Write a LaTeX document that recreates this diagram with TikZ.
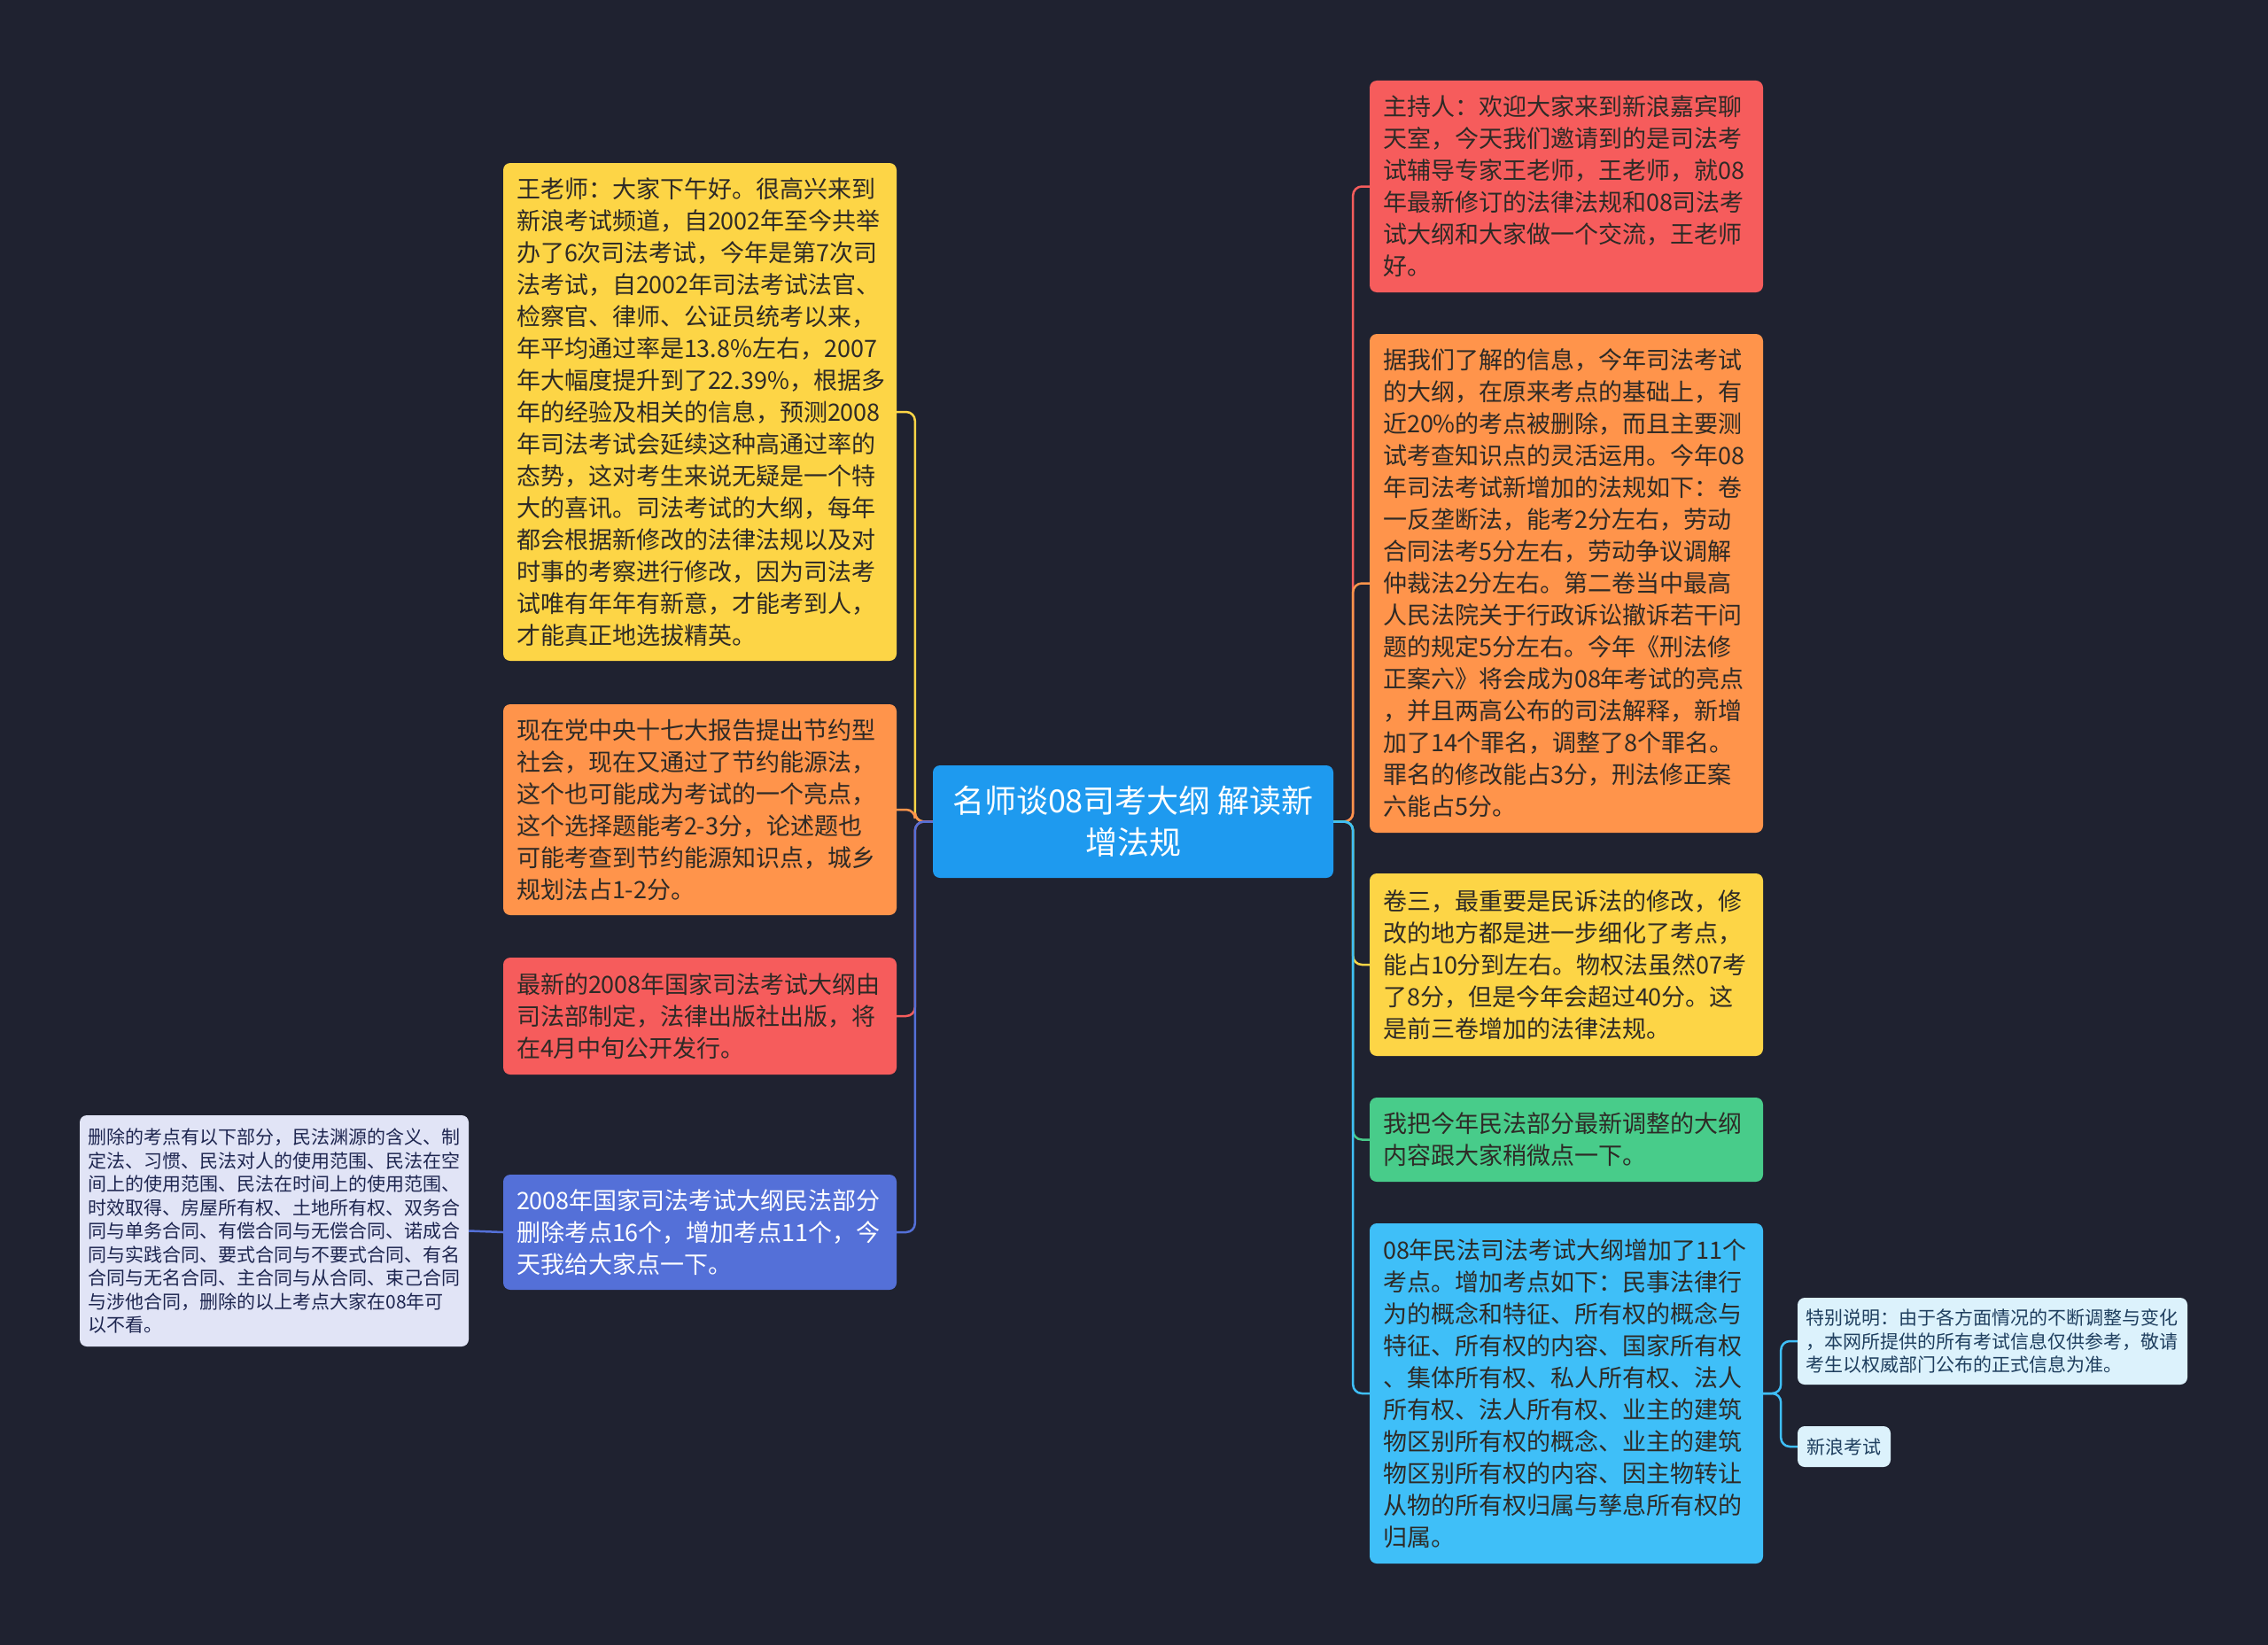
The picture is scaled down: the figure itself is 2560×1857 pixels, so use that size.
\documentclass[tikz,border=0pt]{standalone}
\usepackage{fontspec}
\newfontfamily\cjk{Noto Sans CJK SC}
\definecolor{mapbg}{HTML}{1F2230}
\definecolor{rootblue}{HTML}{1E9AEF}
\definecolor{sun}{HTML}{FDD546}
\definecolor{tangerine}{HTML}{FF944B}
\definecolor{coral}{HTML}{F65C5C}
\definecolor{indigo}{HTML}{5470D8}
\definecolor{lavender}{HTML}{E1E4F6}
\definecolor{mint}{HTML}{48CC8A}
\definecolor{sky}{HTML}{3FBFF8}
\definecolor{pale}{HTML}{DCF2FC}
\definecolor{ink}{HTML}{2E2A26}
\definecolor{navyink}{HTML}{1E2650}
\definecolor{seaink}{HTML}{1F3F5F}

\begin{document}
\begin{tikzpicture}[x=1pt, y=-1pt,
  box/.style={rounded corners=8pt, inner xsep=15pt, inner ysep=0pt,
              text width=414pt, align=left, text=ink,
              font=\cjk\fontsize{27}{36}\selectfont},
  note/.style={rounded corners=8pt, inner xsep=9.5pt, inner ysep=0pt,
               align=left, font=\cjk\fontsize{21}{26.5}\selectfont},
  link/.style={line width=2.5pt, rounded corners=10pt}
]
\fill[mapbg] (0,0) rectangle (2560,1857);

% centre topic
\node[fill=rootblue, rounded corners=8pt, minimum width=452pt, minimum height=127pt,
      align=center, text=white, font=\cjk\fontsize{36}{47}\selectfont]
      (root) at (1279,927.5) {名师谈08司考大纲 解读新\\增法规};

% left branches
\node[box, fill=sun, minimum height=562pt] (wang) at (790,465) {王老师：大家下午好。很高兴来到\\
新浪考试频道，自2002年至今共举\\
办了6次司法考试，今年是第7次司\\
法考试，自2002年司法考试法官、\\
检察官、律师、公证员统考以来，\\
年平均通过率是13.8\%左右，2007\\
年大幅度提升到了22.39\%，根据多\\
年的经验及相关的信息，预测2008\\
年司法考试会延续这种高通过率的\\
态势，这对考生来说无疑是一个特\\
大的喜讯。司法考试的大纲，每年\\
都会根据新修改的法律法规以及对\\
时事的考察进行修改，因为司法考\\
试唯有年年有新意，才能考到人，\\
才能真正地选拔精英。};
\node[box, fill=tangerine, minimum height=238pt] (saving) at (790,914) {现在党中央十七大报告提出节约型\\
社会，现在又通过了节约能源法，\\
这个也可能成为考试的一个亮点，\\
这个选择题能考2-3分，论述题也\\
可能考查到节约能源知识点，城乡\\
规划法占1-2分。};
\node[box, fill=coral, minimum height=132pt] (press) at (790,1147) {最新的2008年国家司法考试大纲由\\
司法部制定，法律出版社出版，将\\
在4月中旬公开发行。};
\node[box, fill=indigo, text=white, minimum height=130pt] (civil) at (790,1391) {2008年国家司法考试大纲民法部分\\
删除考点16个，增加考点11个，今\\
天我给大家点一下。};
\node[note, fill=lavender, text=navyink, text width=420pt, minimum height=261pt]
      (deleted) at (309.5,1389.5) {删除的考点有以下部分，民法渊源的含义、制\\
定法、习惯、民法对人的使用范围、民法在空\\
间上的使用范围、民法在时间上的使用范围、\\
时效取得、房屋所有权、土地所有权、双务合\\
同与单务合同、有偿合同与无偿合同、诺成合\\
同与实践合同、要式合同与不要式合同、有名\\
合同与无名合同、主合同与从合同、束己合同\\
与涉他合同，删除的以上考点大家在08年可\\
以不看。};

% right branches
\node[box, fill=coral, minimum height=239pt] (host) at (1768,210.5) {主持人：欢迎大家来到新浪嘉宾聊\\
天室，今天我们邀请到的是司法考\\
试辅导专家王老师，王老师，就08\\
年最新修订的法律法规和08司法考\\
试大纲和大家做一个交流，王老师\\
好。};
\node[box, fill=tangerine, minimum height=563pt] (info) at (1768,658.5) {据我们了解的信息，今年司法考试\\
的大纲，在原来考点的基础上，有\\
近20\%的考点被删除，而且主要测\\
试考查知识点的灵活运用。今年08\\
年司法考试新增加的法规如下：卷\\
一反垄断法，能考2分左右，劳动\\
合同法考5分左右，劳动争议调解\\
仲裁法2分左右。第二卷当中最高\\
人民法院关于行政诉讼撤诉若干问\\
题的规定5分左右。今年《刑法修\\
正案六》将会成为08年考试的亮点\\
，并且两高公布的司法解释，新增\\
加了14个罪名，调整了8个罪名。\\
罪名的修改能占3分，刑法修正案\\
六能占5分。};
\node[box, fill=sun, minimum height=206pt] (volthree) at (1768,1089) {卷三，最重要是民诉法的修改，修\\
改的地方都是进一步细化了考点，\\
能占10分到左右。物权法虽然07考\\
了8分，但是今年会超过40分。这\\
是前三卷增加的法律法规。};
\node[box, fill=mint, minimum height=95pt] (outline) at (1768,1286.5) {我把今年民法部分最新调整的大纲\\
内容跟大家稍微点一下。};
\node[box, fill=sky, minimum height=384pt] (added) at (1768,1573) {08年民法司法考试大纲增加了11个\\
考点。增加考点如下：民事法律行\\
为的概念和特征、所有权的概念与\\
特征、所有权的内容、国家所有权\\
、集体所有权、私人所有权、法人\\
所有权、法人所有权、业主的建筑\\
物区别所有权的概念、业主的建筑\\
物区别所有权的内容、因主物转让\\
从物的所有权归属与孳息所有权的\\
归属。};
\node[note, fill=pale, text=seaink, text width=421pt, minimum height=98pt]
      (notice) at (2249,1514) {特别说明：由于各方面情况的不断调整与变化\\
，本网所提供的所有考试信息仅供参考，敬请\\
考生以权威部门公布的正式信息为准。};
\node[note, fill=pale, text=seaink, minimum width=105pt, minimum height=46pt]
      (sina) at (2081.5,1633) {新浪考试};

% connectors
\draw[link, sun]       (root.west) -- ++(-20,0) |- (wang.east);
\draw[link, tangerine] (root.west) -- ++(-20,0) |- (saving.east);
\draw[link, coral]     (root.west) -- ++(-20,0) |- (press.east);
\draw[link, indigo]    (root.west) -- ++(-20,0) |- (civil.east);
\draw[link, indigo]    (civil.west) -- (deleted.east);
\draw[link, coral]     (root.east) -- ++(22,0) |- (host.west);
\draw[link, tangerine] (root.east) -- ++(22,0) |- (info.west);
\draw[link, sun]       (root.east) -- ++(22,0) |- (volthree.west);
\draw[link, mint]      (root.east) -- ++(22,0) |- (outline.west);
\draw[link, sky]       (root.east) -- ++(22,0) |- (added.west);
\draw[link, sky]       (added.east) -- ++(20,0) |- (notice.west);
\draw[link, sky]       (added.east) -- ++(20,0) |- (sina.west);
\end{tikzpicture}
\end{document}
